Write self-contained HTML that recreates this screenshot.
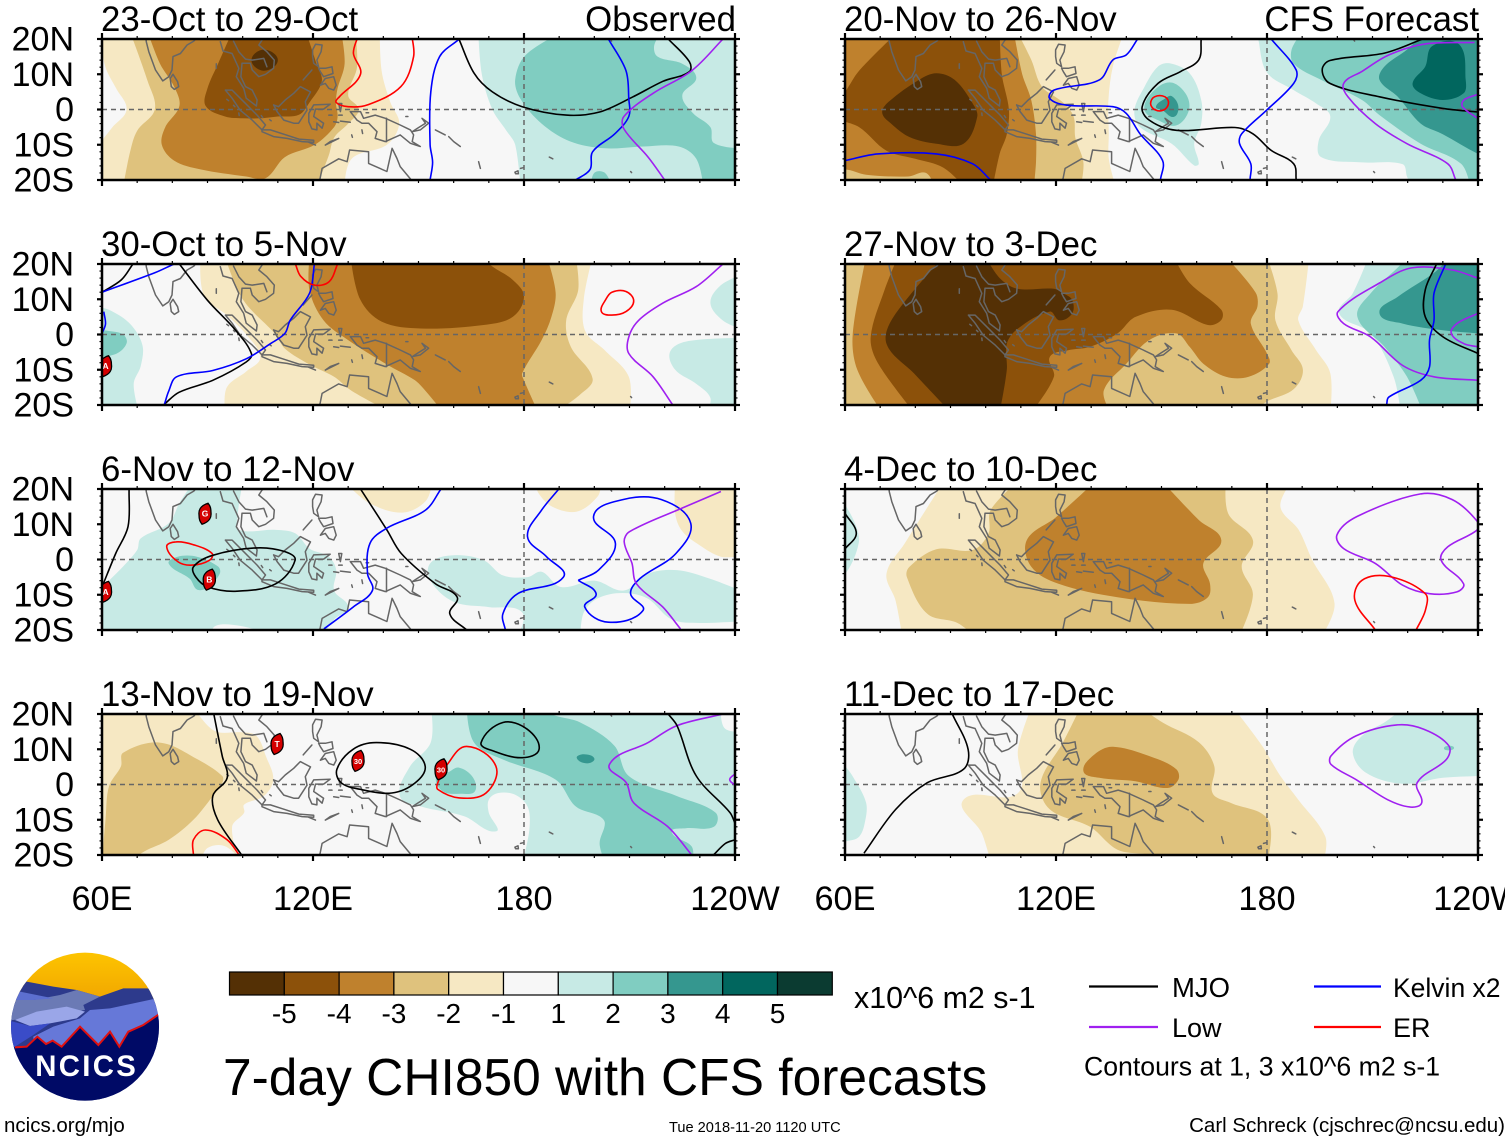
<!DOCTYPE html>
<html lang="en">
<head>
<meta charset="utf-8">
<title>7-day CHI850 with CFS forecasts</title>
<style>
html,body{margin:0;padding:0;background:#fff}
svg{display:block}
text{font-family:"Liberation Sans",sans-serif;fill:#000}
</style>
</head>
<body>
<svg id="chart" xmlns="http://www.w3.org/2000/svg" width="1510" height="1142" viewBox="0 0 1510 1142">
  <rect width="1510" height="1142" fill="#fff"/>
  <g id="panels"></g>
  <g id="colorbar"></g>

  <text x="854" y="1008" font-size="30.4">x10^6 m2 s-1</text>
  <text x="223" y="1095" font-size="51.5">7-day CHI850 with CFS forecasts</text>

  <g>
    <line x1="1089" x2="1158" y1="986.500" y2="986.500" stroke="#000" stroke-width="2.200"/>
    <text x="1172" y="997" font-size="27.500">MJO</text>
    <line x1="1314" x2="1381" y1="986.500" y2="986.500" stroke="#0000ff" stroke-width="2.200"/>
    <text x="1393" y="997" font-size="26.500">Kelvin x2</text>
    <line x1="1089" x2="1158" y1="1027" y2="1027" stroke="#a020f0" stroke-width="2.200"/>
    <text x="1172" y="1037" font-size="27">Low</text>
    <line x1="1314" x2="1381" y1="1027" y2="1027" stroke="#ff0000" stroke-width="2.200"/>
    <text x="1393" y="1037" font-size="27">ER</text>
    <text x="1084" y="1075.500" font-size="26.650">Contours at 1, 3 x10^6 m2 s-1</text>
  </g>

  <g transform="translate(0,940) scale(0.33333)">
    <defs>
      <clipPath id="logoClip"><circle cx="255" cy="260" r="222"/></clipPath>
      <linearGradient id="sunGrad" x1="0" y1="0" x2="0" y2="1"><stop offset="0" stop-color="#ffc800"/><stop offset="1" stop-color="#f0a400"/></linearGradient>
    </defs>
    <g clip-path="url(#logoClip)">
      <rect x="0" y="20" width="500" height="170" fill="url(#sunGrad)"/>
      <polygon fill="#2d3a8c" points="30,135 80,125 160,140 230,150 300,170 370,145 440,145 500,150 500,520 0,520"/>
      <polygon fill="#6b7ab5" points="20,180 100,180 180,165 230,150 300,170 250,195 255,210 40,240 20,240"/>
      <polygon fill="#5c6fd0" points="60,155 110,165 160,175 100,180 40,180"/>
      <polygon fill="#6678d8" points="100,290 160,260 240,235 270,210 330,205 470,175 490,240 400,270 360,330 300,330 100,330"/>
      <polygon fill="#9aa6e8" points="45,240 110,215 200,200 255,215 230,235 150,250 90,258"/>
      <polygon fill="#3a4cc8" points="20,240 90,258 150,250 100,285 45,320 20,330"/>
      <polygon fill="#000a66" points="45,322 80,320 112,290 138,312 158,302 185,320 240,260 295,315 330,275 358,320 385,275 430,255 478,222 500,520 0,520 0,322"/>
      <polyline fill="none" stroke="#e01010" stroke-width="6" points="45,322 80,320 112,290 138,312 158,302 185,320 240,260 295,315 330,275 358,320 385,275 430,255 478,222"/>
      <text x="260" y="408" font-size="88" font-weight="bold" text-anchor="middle" letter-spacing="7" style="fill:#fff">NCICS</text>
    </g>
  </g>

  <text x="4" y="1132" font-size="20.500">ncics.org/mjo</text>
  <text x="669" y="1132" font-size="14.600">Tue 2018-11-20 1120 UTC</text>
  <text x="1505" y="1132" font-size="20.500" text-anchor="end">Carl Schreck (cjschrec@ncsu.edu)</text>
  <rect id="edgeMask" x="1505" y="0" width="5" height="1142" fill="#fff"/>
</svg>

<script>
// ---- chart data (lon in degrees east, lat in degrees north) ----
const lonMajor = [60, 120, 180, 240];
const lonLabels = ['60E', '120E', '180', '120W'];
const latMajor = [20, 10, 0, -10, -20];
const latLabels = ['20N', '10N', '0', '10S', '20S'];
const barTicks = [-5, -4, -3, -2, -1, 1, 2, 3, 4, 5];
const panelTitles = ['23-Oct to 29-Oct', '30-Oct to 5-Nov', '6-Nov to 12-Nov', '13-Nov to 19-Nov', '20-Nov to 26-Nov', '27-Nov to 3-Dec', '4-Dec to 10-Dec', '11-Dec to 17-Dec'];

// filled contours: [level, [lon,lat,lon,lat,...]] painted in order
const p1Shade = [
 [-1,[59,22,139,22,139.500,11,142,2,144.500,-4,141,-10,131,-14,129,-22,59,-22,59,-10,63,-5,67,0,64,6,61,12]],
 [-2,[68,22,132,22,132.500,12,130,4,133,0,130,-4,126,-8,124.500,-13,121,-22,66,-22,68,-12,70,-6,75,0,73,8]],
 [-3,[73,22,128,22,129,13,127,6,126.500,2,127,-2,126,-5,120.500,-10,112,-13.500,106.500,-19.500,101,-19,88,-17,80.500,-14.500,77,-10,78,-5,82,1,80.500,6.500,76.500,13]],
 [-4,[97,22,118,22,121,13,122.500,8,119,2,116,-1.500,110,-2,105,-2.500,100,-2.500,95,-2,89.500,1,90,6,93,13]],
 [-5,[102.500,14,106,17,110,14,106,11]],
 [1,[167,22,242,22,242,-22,179,-22,177.500,-10,175,-6,171,0,168,10]],
 [2,[191,22,219,22,217,18,218,15,225,13,229,9,225,4,228,-1,233,-5,234,-9.500,242,-11,242,-22,231,-22,229,-14,224,-10.500,214,-10.500,203,-11,193,-9,185,-4,179,3,177.500,8.500,180.500,15.500]],
 [2,[199,-22,200,-18,203,-18,205,-22]]
];
const p1Lines = [
 ['ER',[133,21,131.500,16,133.500,10,127.500,3.600,126.600,2,130,0.800,135.500,1.300,145,6.500,148.600,15,148,21],0],
 ['Kelvin',[161.600,20,156,15,153.500,5,153.300,-10,154,-15,153.300,-20],0],
 ['MJO',[161.500,20,165.800,10.300,171,5,179.500,0.800,192,-1.600,201.500,-0.700,211,3.600,219.500,8,227,10.700,227,13.600,221,20],0],
 ['Kelvin',[204,20,209,11,209.800,3,209.800,-2,205.700,-7,199.500,-12,198.800,-17,194.700,-20],0],
 ['Low',[236.600,20,227.700,11,216.700,4.600,208.400,-2,208.400,-5.500,215.300,-13.500,220,-20],0]
];
const p1Storms = [];

const p2Shade = [
 [-1,[88,22,199.500,22,197,10,197.400,1,203,-4.500,209.800,-12,210,-22,95,-22,95.500,-15,101,-10.500,105,-6.500,101,0,95.500,5.500,89,11]],
 [-2,[95,22,194.700,22,195.400,12.600,192,4,193.300,-3.500,199.500,-12.500,196,-17,189,-22,142,-22,131,-16,126,-12,119,-8.500,112,-4,109.400,0,100,10]],
 [-3,[119,22,186.500,22,189,12,187.800,5,185,-1.600,179.500,-11,180,-13,184,-22,157,-22,152,-16,149,-13,141,-8.500,130,-1.600,123,4,119,12.500]],
 [-4,[130.700,22,133.400,10,139.600,3.600,150.600,1.700,168.500,2.700,176.800,5,180,10.800,176.800,15.500,171,19.300,168,22]],
 [1,[58,8,62,7,68,3,71.500,-3,71,-9,69,-14,70.500,-22,58,-22]],
 [2,[58,1.500,62,1,66,0,67,-2.500,64,-5.500,58,-6.500]],
 [1,[242,17,236,14,233,9,236.500,4,242,1.500]],
 [1,[242,-1,226,-2,221.500,-5,223,-10,229,-14,233,-18,232,-22,242,-22]]
];
const p2Lines = [
 ['MJO',[68.800,20,65.500,15.500,60,12],0],
 ['Kelvin',[80.500,20,75,17.500,60,12],0],
 ['MJO',[82,20,90,9.700,98,1.200,102.500,-5.500,101,-7.800,91.500,-13,81.900,-16.400,77.700,-19.800],0],
 ['Kelvin',[120.400,20,119,11.700,113.500,4,112,0.300,107.900,-2.600,101,-6.900,91.500,-10.200,81.200,-12,79,-16,77.700,-20],0],
 ['Kelvin',[60.500,6.500,61,3,60,0.300],0],
 ['ER',[115,20,116.500,16.500,120.400,14,124.600,15,127,20],0],
 ['ER',[205,12,209,12.200,211.200,9.500,209,6.500,205,5.500,202,6.500,203.300,10],1],
 ['Low',[236.600,20,229,13.600,219.500,8.900,212.600,4,209.800,-0.700,209.800,-5.400,216.700,-12,222.300,-20],0]
];
const p2Storms = [[61,-9,'A']];

const p3Shade = [
 [1,[58,-10,62,-6,66,-2,70,2.700,71,6,79,10.300,82,16,86,22,100,22,98.500,12,99,8.400,109.400,8.400,115,7.400,119,3.100,124.500,0.800,126.600,-3,126,-8.800,130,-13.500,126,-17,122.500,-22,58,-22]],
 [0,[91,-22,92,-19,97,-18.500,104,-20,108,-22]],
 [2,[79,-1.200,81.500,0.800,87,0.800,93,-2,93.500,-4,90,-8,87,-8.500,85,-5.500]],
 [1,[153.400,-1,160,1.200,168.500,-0.200,174,-4.500,181,-5,185,-3.500,190.500,-7.800,200,-6,208.400,-8.800,215.300,-4,223.500,-3,233,-5.500,242,-9,242,-17.500,230,-18,222,-17,215,-11,208,-9.500,201,-11,197,-15,196,-22,178,-22,179.500,-15,170,-13.500,160,-12,153.400,-6]],
 [-1,[130,22,131,20,137,15.500,145.500,13.300,152,16.500,154,22]],
 [-1,[183.500,22,184,19,188,15,195,13.600,201,18,202,22]],
 [-1,[223,22,223,13,225,8,230,4,236,0.800,242,1,242,22]]
];
const p3Lines = [
 ['MJO',[67.700,20,67.400,9.300,63.900,1.700,60,-7.800],0],
 ['ER',[78.400,3.600,81,5,86,4.200,91.300,1.700,90.600,-0.200,85.800,-1.600,81.700,-0.700],1],
 ['MJO',[86,-2.100,91.500,1.200,103.900,3.300,112.100,2.200,114.900,-0.200,109.400,-6.900,98.400,-9,90.100,-7.800,86.700,-5],1],
 ['MJO',[133.500,20,141,8.400,145.100,1.700,154.800,-6.900,161,-10.700,158.900,-15.400,163.700,-20],0],
 ['Kelvin',[156.400,20,152,14,141,8.900,136.200,4.600,135.500,-4,136.900,-8.800,131.400,-13.500,123.100,-19.700],0],
 ['Kelvin',[189.900,20,185,14,181,6.500,186.400,0.800,191.200,-5,178.200,-9.700,174,-15.400,174.700,-20],0],
 ['Kelvin',[195.400,-5.900,200.500,-9.700,197.300,-13.500,204,-17.800,213.800,-14.500,210.300,-9.700,213,-5.400,223.200,1.700,227.400,10.300,219.100,17,208.100,17,199.800,12.300,206,4.600,201.200,-3,195.400,-5.900],0],
 ['Low',[236,19.300,225,14.600,210,7.900,208.500,5,210.700,-1.100,212,-6.900,219.500,-13.500,224.500,-19.700],0]
];
const p3Storms = [[89.300,13,'G'],[90.500,-5.700,'B'],[61,-9.200,'A']];

const p4Shade = [
 [-1,[58,22,86,22,92,15.200,99.700,14.800,103.900,13.800,106.600,8,108.700,1.400,106,-3.300,100.400,-5.700,100.400,-8,97,-12,99,-22,58,-22]],
 [-2,[60,-22,61,-10,62,-0.500,65.400,5.200,66,9,76.400,11.900,87.400,7,94.200,2.400,94.200,0.500,91.500,-3.300,86,-10,79,-15.700,72,-19,68,-22]],
 [0,[88,-22,90,-18,95,-17.500,100,-22]],
 [1,[153.500,22,153.500,12,147.500,5,144.700,-3.300,150.600,-6.200,163,-9,172,-13.300,170,-8,170,-4.300,172.700,-2.400,177.500,-2.900,181,-6.200,181.600,-12,180.200,-20,180,-22,242,-22,242,15,237,16,236,22]],
 [2,[163.700,22,165.800,11.900,174,7.100,189,1.400,194.700,-6.200,201.500,-9,203,-11,201.500,-16.700,203,-22,228,-22,227.700,-17.600,222,-13.500,226,-12.400,234,-12,234.500,-8,223.500,-3.300,209.800,2.400,205.700,11,196,17.600,189,19.500,183,22]],
 [2,[155,2,158.500,3.500,161.500,4.800,165.500,2,166,-2,162,-2.600,157,-2]],
 [3,[195,7.500,197,8.600,200,7.400,198,6]]
];
const p4Lines = [
 ['MJO',[91.800,20,94.200,8,95.600,1.900,91.500,-3.300,92.900,-10,99.700,-20],0],
 ['ER',[86,-20,86,-15.700,89.400,-12.900,95.600,-15.700,99,-20],0],
 ['MJO',[126.800,4.300,131.400,10,138,11.900,147.700,10,151.900,5.200,149.100,0.500,142.400,-2.400,133.500,-1.400,128,0.500],1],
 ['MJO',[167.800,11.900,174,17.600,180.900,15.700,184.300,10,179.500,7.600,171.300,9.500],1],
 ['ER',[158.200,5.700,163.700,10.800,172,5.200,169.200,-2.400,161.600,-3.800,155.500,-1.400,155.500,0.500],1],
 ['Low',[236.600,20,223.500,16.700,215.300,11.900,204.300,5.700,209.100,0.500,211.200,-5.200,220.800,-11.900,227.700,-20],0],
 ['Low',[240,3,238.500,1.400,240,-0.200],0],
 ['MJO',[221,20,223.500,16.700,229,2.400,238.600,-8,240,-11],0],
 ['MJO',[233.900,-20,237.300,-16.700,240,-15.700],0]
];
const p4Storms = [[109.800,11.500,'T'],[132.800,6.700,'30'],[156.400,4.300,'30']];

const p5Shade = [
 [-1,[58,22,139.400,22,136.200,12.400,134.900,2.600,135,-7,135,-14,137,-22,58,-22]],
 [-2,[58,22,109,22,113,14,116,6.500,122,2,125,-2,125.500,-8,127.800,-15,127,-22,58,-22]],
 [-3,[58,22,108,22,110.400,10,113,2.500,114.300,-7,114.300,-15,113.700,-22,58,-22]],
 [-2,[58,-18,60,-17,66,-18.500,78,-19,83,-18,85.500,-22,58,-22]],
 [-4,[75,22,64,11,60,5,58,3,58,-3,64,-5,71.800,-11.700,80,-14,88,-16.500,94,-22,102,-22,104,-12.500,106,-7,106.600,0,104.600,10,104,22]],
 [-5,[86,10.300,91.200,8.400,96.300,1.700,97.600,-2.100,93.700,-9.700,86,-9.700,78.300,-7.800,73.100,-4,70.600,-1.100,71.900,1.700,81,8.400]],
 [1,[152.300,13.100,158,10.300,161.300,2.700,161.300,-4,159.300,-9.700,160.600,-15.400,159.300,-15.900,152.900,-9.700,143.900,-5,142.300,-0.200,145.200,6.500,149,12.200]],
 [2,[152.300,7.700,156.800,4.600,157.800,-0.200,154.200,-4.500,149,-3,145.200,-0.200,147.100,4.600]],
 [3,[152.900,3.800,154.800,0.800,153.500,-2.100,150.300,-0.200,148.400,0.800,151,3.100]],
 [1,[177.300,22,177.500,20,180,10.500,187.600,5.500,194,1.700,198,-2,194.700,-8.800,195.400,-13.500,207,-15,218.500,-15.500,219.800,-19,221,-22,242,-22,242,22]],
 [2,[190,22,187,17,187.600,13,195.400,8.400,207,2.700,212,-1.600,223.700,-9.700,235.200,-15.400,237.800,-22,242,-22,242,22]],
 [3,[225,22,219.800,17,213.400,12.200,212,8.400,217.200,3.600,223.700,-4,230,-7,240,-12.600,242,-13,242,22]],
 [4,[227,18,234.600,18.500,236.500,8.400,235.900,4.600,230,2.700,223.700,4.600,221.400,7.400,225,12.200]]
];
const p5Lines = [
 ['Kelvin',[60,-14.500,69.300,-12.600,86,-12.600,96.300,-15.400,101.400,-20],0],
 ['Kelvin',[143.200,20,140,15.500,136.200,14.100,132.300,8.400,119.400,5.500,118.200,3.100,123.300,1.200,136.200,0.800,140,-1.100,143.900,-6.900,150.300,-14.500,149.700,-20],0],
 ['MJO',[161.300,20,160.600,14.100,155.500,10.800,149,7.400,144.500,0.800,146.500,-3,154.200,-5.900,170.900,-5.100,176,-6.900,181.200,-11.600,187.600,-15.400,188.300,-20],0],
 ['ER',[148,3.600,151,3.600,152,1.700,150.500,-0.200,148,0,146.900,1.700],1],
 ['Kelvin',[181.200,20,188.300,11.200,187.600,7.400,179.900,-0.200,172.800,-6.900,172.200,-9.700,175.400,-15.400,175.200,-19.700],0],
 ['MJO',[224.300,20,213.400,16,197.900,13.900,195.700,11.200,197.900,7.400,212,3.600,230,0.300,240,-0.700],0],
 ['Low',[239,19,225,18.600,214.700,15.500,207,10.800,201.800,7.400,203,3.600,210.800,-4,219.800,-9.700,231.400,-15.400,233.700,-20],0],
 ['Low',[240,4.300,236,2.700,235.600,0.800,240,-2.600],0]
];
const p5Storms = [];

const p6Shade = [
 [-1,[58,22,192,22,190.200,8,188.900,4,194,-4.500,198,-11,198,-22,58,-22]],
 [-2,[58,22,180,22,183,11.600,182.400,4,187,-4.500,190.200,-10,187.600,-15.500,180,-19,176,-22,58,-22]],
 [-3,[66,22,168.300,22,176.700,12,177.300,8,175.400,3.100,180,-5.400,180.600,-8.300,174.800,-12,168.300,-12,161.900,-8.300,158,-3.500,154.200,0.300,146.500,-1.600,140,-8.300,133.600,-15.900,135.500,-22,70.500,-22,63.500,-10,62.200,0]],
 [-4,[75,22,153.500,22,158,14.600,167,7,167,4.100,163.200,2.700,152.900,7,142.600,5,137.500,0.300,129.700,-3.500,123.300,-4.500,118.200,-6.400,119.400,-12,113,-22,79.600,-22,69.300,-8,67.300,-0.700,71.200,12.500]],
 [-5,[88,22,100,22,104,16,109,13,119.400,13,122,11.700,124.600,9.800,124.600,6,121,4,118.200,6.500,109.200,1.700,106,-2.600,106,-10,104,-22,90,-22,79.600,-11,71.800,-2.600,73.800,5]],
 [1,[208.900,22,204.400,11.700,200.500,6,209.500,0.300,216,-12,218,-22,242,-22,242,22]],
 [2,[220,22,217.200,19,209.500,11.700,205.700,5,213.400,-3.500,219.800,-12,224.300,-22,242,-22,242,22]],
 [3,[232,22,227.500,17.500,217.200,10.700,212,6,218.600,3.100,230,1.200,240,0.300,242,0,242,22]]
];
const p6Lines = [
 ['Low',[240,16,232.700,18.300,221.100,18.900,212,14.600,200.200,6.500,201.800,3.100,209.500,-0.700,218.600,-8.800,227.500,-12,240,-13],0],
 ['Low',[240,6,234,3.100,232.400,0.300,236,-2.600,240,-3.500],0],
 ['MJO',[228.200,20,225,12.700,225,5,230.100,-0.700,240,-5.400],0],
 ['Kelvin',[230.800,20,227.500,11.700,227.500,4,226.200,-1.600,226.200,-9.200,223.700,-13,214.600,-17.800,214,-20],0]
];
const p6Storms = [];

const p7Shade = [
 [-1,[88,22,187,22,183.800,15,189,8.400,192.800,0,199.200,-12.400,195.400,-22,76.300,-22,74.400,-11.700,71.800,-4,77,4.600]],
 [-2,[109,22,101.400,14,100.800,7.400,96.300,2.700,86,2.900,78.300,-2.100,77.600,-5,83.400,-15.400,92,-18,97,-22,172,-22,176,-10,172.800,-2,176,5.500,169,13,168.300,22]],
 [-3,[131,22,120,12,111.700,5.500,113,-2.100,120.700,-6.900,137.500,-10.700,158,-12.600,163.200,-10.700,163.800,-6.900,161.900,-1.100,167,5.500,160.600,11.200,150.300,22]],
 [1,[58,17,60,15.500,63.200,9.300,63.900,4.600,60.500,-3.500,58,-4]]
];
const p7Lines = [
 ['MJO',[60,13.100,63.200,7.400,60,3],0],
 ['Low',[223.700,18.600,232.700,17,239.800,10.800,239.800,8.400,231.400,3.600,229.500,-0.200,235.900,-6.900,234,-9.200,226.200,-9.700,218.600,-7.300,210.800,-1.100,201.800,3.100,199.900,7,205.600,12.200],1],
 ['ER',[210.800,-20,205,-11.600,207,-5.900,214.700,-4.800,225,-9.700,225,-14.500,222.400,-20],0]
];
const p7Storms = [];

const p8Shade = [
 [-1,[113,22,170.300,22,178.600,11,183.800,2.400,188.900,-4.300,196.600,-14.800,196,-22,101.400,-22,98.900,-13.800,93.700,-4.300,109.200,-2.400,109.200,10]],
 [-2,[127,22,122,12,115.600,0.500,118.200,-7,129.700,-12,137.500,-18.500,146.500,-20,150,-22,180,-22,180.300,-10,169.600,-5.200,164.500,-2.400,165,5.200,160.600,12,150.300,17.600,144,22]],
 [-3,[127.800,3.800,131,8.600,136.200,10.700,147.800,7.600,154.200,4.300,154.800,1.400,151.700,-1,142.600,0.900,132.300,1.900]],
 [1,[58,6,60,5.200,63,1,66,-5.200,65.800,-10,64,-14.800,60,-16.200,58,-16.500]],
 [1,[219,22,214,18,207,13.800,204.400,9,208.200,3.300,218.500,0.200,230,1.900,240,2.400,242,2.400,242,22]],
 [2,[230.300,10.300,232,11,233.200,10.400,232,9.700]]
];
const p8Lines = [
 ['MJO',[90.500,20,95,10,93.700,4.300,83.400,0.500,74.400,-7.100,65.400,-19.500],0],
 ['Low',[216.900,16.900,224.600,15.700,231.700,11,231,7.100,222.700,0.500,224,-5.200,220.800,-6.400,214.300,-4.300,205.300,1.400,198.200,5.700,198.200,8.100,205.300,13.800],1]
];
const p8Storms = [];

// coastlines, shared by all panels
const coastIndia = [72.400,21,72.600,19.200,73.300,16.400,75.200,11.200,77.300,8.100,79,9.300,79.900,11.200,80.200,15,82.300,15.900,84.200,18.300,86.100,19.400,87,20.500];
const coastSriLanka = [79.400,8.800,80.200,10,81.500,7.900,81.800,6.500,80.600,5.700,79.700,6.500,79.400,8.800];
const coastIndochina = [93.650,19.240,94.400,16.600,97,15.900,98.900,11.700,98.200,9.300,100.300,6,101,3.200,103.900,1,104.100,2.700,102.700,5.500,100.800,6.500,99.500,9.300,99.800,13.100,102.200,13.100,102.700,11.200,104.600,9.300,106.500,10,108.800,11.700,109,14,106.900,16.400,104.600,18.300,105.500,19.700,107,21];
const coastMainlandInner = [97.400,19.400,98.900,16.400,100.800,14.300,102.700,14,106,14.500,106.900,12.100];
const coastSumatra = [95.100,5.500,97,5.500,100.300,2.200,104.100,-1.600,106.500,-4.400,105.500,-5.800,102.700,-3,99.300,-0.200,97,3.200,95.100,5.500];
const coastJava = [105.500,-5.800,107.900,-5.800,111.700,-7,116,-8.400,120.200,-8.700,120.200,-9.300,116.900,-9.100,112.600,-8.200,108.800,-7.700,105.500,-6.300,105.500,-5.800];
const coastBorneo = [108.800,1.300,110.200,0.800,112.100,2.700,114.500,4.600,116.400,6.500,119.300,5,117.800,2.200,118.300,-0.200,115.900,-3.900,114.500,-3.900,111.700,-3,109.800,-0.600,108.800,1.300];
const coastSulawesi = [118.800,-1.100,120.200,1.300,124.900,1.500,123,0.100,120.700,0.100,120.200,-2,123,-3.900,122.600,-5.300,121.100,-3.900,121.100,-5.800,119.700,-5.500,118.800,-3.500,118.800,-1.100];
const coastLuzon = [119.900,16.900,120.700,18.500,122.600,18.300,122.300,16.400,121.100,14,121.600,12.100,120.200,13.100,119.900,15,119.900,16.900];
const coastVisayas = [121.600,11.700,123.500,11.700,125.400,12.100,125.700,10.200,123,9.300,122.100,10.700,121.600,11.700];
const coastMindanao = [122.100,6.900,123.500,8.800,125.900,9.300,126.600,6.900,125.900,5.500,124.500,6,123.500,7.400,122.100,6.900];
const coastPalawan = [117.200,8.400,119.700,11.200];
const coastHalmahera = [127.300,1.700,128.200,1.700,127.800,-0.600,127.300,1.700];
const coastSeram = [127.800,-3.300,130.600,-3.600];
const coastBuru = [125.900,-3.500,127.300,-3.700];
const coastMorotai = [127.300,-1.600,128.300,-1.600];
const coastBanggai = [124.500,-1.600,125.400,-1.600];
const coastAru = [133.900,-5.800,134.100,-6.800];
const coastTanimbar = [131,-7.200,131.200,-7.900];
const coastBiak = [135.100,-0.900,135.800,-0.900];
const coastManus = [146.400,-2,147,-2];
const coastNewGuinea = [130.600,-0.600,133.500,-0.600,134.400,-2.500,137.700,-1.600,140.600,-2.500,144.800,-4.400,147.700,-5.800,148.600,-7.200,148.200,-9.100,150.500,-10.500,147.700,-9.600,144.800,-7.200,140.600,-9.100,137.700,-8.200,138.200,-6.300,135.800,-3.900,133.900,-3.900,132.500,-3,130.600,-0.600];
const coastPngBorder = [140.900,-2.500,140.900,-9.100];
const coastAustralia = [120,-21.500,122,-19.700,122.600,-16.700,127.300,-14,129.700,-14.800,130.400,-11.500,135.800,-12,135.800,-15.300,141,-17.600,142.500,-11,143.900,-13.900,144.800,-16.200,147.700,-19.700,149,-22];
const coastNewBritain = [148.200,-6.300,150.500,-5.800,152.900,-3.900,151,-2.500,152,-3.900,149.600,-5.400,148.200,-6.300];
const coastBougainville = [154.800,-5.800,157.600,-7.200];
const coastSolomons = [158.600,-7.700,160,-9.100,161.900,-10.500];
const coastTimor = [123.500,-10.100,127.300,-8.200,124.900,-9.100,123.500,-10.100];
const coastSumba = [118.800,-9.300,120.700,-10.100];
const coastAndaman = [92.500,13,92.500,11.700];
const coastNias = [95.500,2.900,96,2.500];
const coastSiberut = [97.400,1.200,97.800,0.800];
const coastMentawai = [98.900,-1,99,-1.700];
const coastBangka = [105.300,-1.700,105.700,-2.300];
const coastBelitung = [107.700,-2.900,108.100,-3.200];
const coastVanuatu = [167.100,-14.800,167.600,-16.700];
const coastFiji = [177.400,-17.800,178.300,-17.400,178.400,-18.200,177.600,-18.200,177.400,-17.800];
const coastFiji2 = [179,-16.700,179.800,-16.500];
const coastSamoa = [187.200,-13.500,188.200,-14];
const coastTahiti = [210.300,-17.600,210.600,-17.900];
const coastHawaii = [204.500,20,204.900,19.400];
const allCoasts = [coastIndia,coastSriLanka,coastIndochina,coastMainlandInner,coastSumatra,coastJava,coastBorneo,coastSulawesi,coastLuzon,coastVisayas,coastMindanao,coastPalawan,coastHalmahera,coastSeram,coastBuru,coastMorotai,coastBanggai,coastAru,coastTanimbar,coastBiak,coastManus,coastNewGuinea,coastPngBorder,coastAustralia,coastNewBritain,coastBougainville,coastSolomons,coastTimor,coastSumba,coastAndaman,coastNias,coastSiberut,coastMentawai,coastBangka,coastBelitung,coastVanuatu,coastFiji,coastFiji2,coastSamoa,coastTahiti,coastHawaii];

const panelShades = [p1Shade,p2Shade,p3Shade,p4Shade,p5Shade,p6Shade,p7Shade,p8Shade];
const panelLines = [p1Lines,p2Lines,p3Lines,p4Lines,p5Lines,p6Lines,p7Lines,p8Lines];
const panelStorms = [p1Storms,p2Storms,p3Storms,p4Storms,p5Storms,p6Storms,p7Storms,p8Storms];

// ---- styling and layout ----
const levelColor = {'-5':'#543005','-4':'#8c510a','-3':'#bf812d','-2':'#dfc27d','-1':'#f6e8c3','0':'#f7f7f7','1':'#c7eae5','2':'#80cdc1','3':'#35978f','4':'#01665e','5':'#0b3b31'};
const waveColor = {MJO:'#000000',Kelvin:'#0000ff',Low:'#a020f0',ER:'#ff0000'};
const colX = [102, 845];
const rowY = [39, 264, 489, 714];
const PW = 633, PH = 141;
const NS = 'http://www.w3.org/2000/svg';

function mk(parent, tag, attrs, txt) {
  const el = document.createElementNS(NS, tag);
  for (const k in attrs) el.setAttribute(k, attrs[k]);
  if (txt !== undefined) el.textContent = txt;
  parent.appendChild(el);
  return el;
}

// p: pixel points; sharp[i] true = off-map knot, kept as a hard corner so no bulge enters the plot
function splinePath(p, closed, sharp) {
  const n = p.length;
  const wrap = i => closed ? (i + n) % n : Math.max(0, Math.min(n - 1, i));
  const at = i => p[wrap(i)];
  let d = 'M' + p[0][0].toFixed(1) + ',' + p[0][1].toFixed(1);
  const dist = (a, b) => Math.hypot(a[0] - b[0], a[1] - b[1]);
  const tang = i => {
    if (sharp[wrap(i)]) return [0, 0];
    const a = at(i - 1), b = at(i + 1);
    const l = dist(a, b) || 1;
    return [(b[0] - a[0]) / l, (b[1] - a[1]) / l];
  };
  const segs = closed ? n : n - 1;
  for (let i = 0; i < segs; i++) {
    const a = at(i), b = at(i + 1);
    const l = dist(a, b) / 3;
    const ta = tang(i), tb = tang(i + 1);
    d += 'C' + (a[0] + ta[0] * l).toFixed(1) + ',' + (a[1] + ta[1] * l).toFixed(1) + ' ' +
         (b[0] - tb[0] * l).toFixed(1) + ',' + (b[1] - tb[1] * l).toFixed(1) + ' ' +
         b[0].toFixed(1) + ',' + b[1].toFixed(1);
  }
  return d + (closed ? 'Z' : '');
}

function drawPanel(index) {
  const col = index < 4 ? 0 : 1;
  const row = index % 4;
  const px = colX[col], py = rowY[row];
  const x = lon => px + (lon - 60) * PW / 180;
  const y = lat => py + (20 - lat) * PH / 40;
  const toPts = f => { const r = []; for (let i = 0; i < f.length; i += 2) r.push([x(f[i]), y(f[i + 1])]); return r; };
  const offMap = f => { const r = []; for (let i = 0; i < f.length; i += 2) r.push(f[i] < 59.500 || f[i] > 240.500 || Math.abs(f[i + 1]) > 20.500); return r; };

  const root = document.getElementById('panels');
  const g = mk(root, 'g', {});
  
  

  const clipId = 'clip' + index;
  const defs = mk(g, 'defs', {});
  const cp = mk(defs, 'clipPath', {id: clipId});
  mk(cp, 'rect', {x: px, y: py, width: PW, height: PH});

  const plot = mk(g, 'g', {'clip-path': 'url(#' + clipId + ')'});
  
  
  const bg = mk(plot, 'rect', {x: px, y: py, width: PW, height: PH, fill: levelColor['0']});
  
  

  panelShades[index].forEach(s => {
    const el = mk(plot, 'path', {d: splinePath(toPts(s[1]), true, offMap(s[1])), fill: levelColor[String(s[0])]});
    
    
  });

  allCoasts.forEach(c => {
    const el = mk(plot, 'polyline', {points: toPts(c).map(q => q[0].toFixed(1) + ',' + q[1].toFixed(1)).join(' '), fill: 'none', stroke: '#666', 'stroke-width': 1.500, 'stroke-linejoin': 'round', 'stroke-linecap': 'round'});
    
    
  });

  const eq = mk(plot, 'line', {x1: px, x2: px + PW, y1: y(0), y2: y(0), stroke: '#666', 'stroke-width': 1.500, 'stroke-dasharray': '5 4'});
  
  
  const dl = mk(plot, 'line', {x1: x(180), x2: x(180), y1: py, y2: py + PH, stroke: '#666', 'stroke-width': 1.500, 'stroke-dasharray': '5 4'});
  
  

  panelLines[index].forEach(l => {
    const el = mk(plot, 'path', {d: splinePath(toPts(l[1]), !!l[2], offMap(l[1])), fill: 'none', stroke: waveColor[l[0]], 'stroke-width': 1.600, 'stroke-linejoin': 'round'});
    
    
  });

  panelStorms[index].forEach(s => {
    const t = mk(plot, 'g', {transform: 'translate(' + x(s[0]).toFixed(1) + ',' + y(s[1]).toFixed(1) + ')'});
    
    
    mk(t, 'path', {d: 'M3,-10.500 C-5,-8 -6.500,-3 -6,1 C-6,6 -5,8 -3,10.500 C5,8 6.500,3 6,-1 C6,-6 5,-8 3,-10.500Z', fill: '#d40000', stroke: '#000', 'stroke-width': 1.300});
    mk(t, 'text', {x: 0, y: 3, 'font-size': s[2].length > 1 ? 7.500 : 8.500, 'font-weight': 'bold', 'text-anchor': 'middle', style: 'fill:#fff'}, s[2]);
  });

  const frame = mk(g, 'rect', {x: px, y: py, width: PW, height: PH, fill: 'none', stroke: '#000', 'stroke-width': 2.500});
  
  

  const ticks = mk(g, 'g', {stroke: '#000', 'stroke-width': 1.300});
  
  
  for (let lon = 60; lon <= 240; lon += 10) {
    const len = lonMajor.includes(lon) ? 6 : 3;
    const w = lonMajor.includes(lon) ? 2.200 : 1.200;
    mk(ticks, 'line', {x1: x(lon), x2: x(lon), y1: py, y2: py - len, 'stroke-width': w});
    mk(ticks, 'line', {x1: x(lon), x2: x(lon), y1: py + PH, y2: py + PH + len, 'stroke-width': w});
  }
  for (let lat = -20; lat <= 20; lat += 2) {
    const major = latMajor.includes(lat);
    const len = major ? 5 : 2.500;
    const w = major ? 2.200 : 1.200;
    mk(ticks, 'line', {x1: px, x2: px - len, y1: y(lat), y2: y(lat), 'stroke-width': w});
    mk(ticks, 'line', {x1: px + PW, x2: px + PW + len, y1: y(lat), y2: y(lat), 'stroke-width': w});
  }

  const title = mk(g, 'text', {x: px - 1, y: py - 8, 'font-size': 34.800}, panelTitles[index]);
  
  

  if (col === 0) {
    latMajor.forEach((lat, i) => {
      const t = mk(g, 'text', {x: 74, y: y(lat) + 11.500, 'font-size': 34, 'text-anchor': 'end'}, latLabels[i]);
      
      
    });
  }
  if (row === 3) {
    lonMajor.forEach((lon, i) => {
      const t = mk(g, 'text', {x: x(lon), y: 910, 'font-size': 34.300, 'text-anchor': 'middle'}, lonLabels[i]);
      
      
    });
  }
  if (index === 0 || index === 4) {
    const t = mk(g, 'text', {x: px + PW + 1, y: py - 8, 'font-size': 34.800, 'text-anchor': 'end'}, index === 0 ? 'Observed' : 'CFS Forecast');
    
    
  }
}

for (let i = 0; i < 8; i++) drawPanel(i);

// colour bar
(function () {
  const bar = document.getElementById('colorbar');
  const levels = [-5, -4, -3, -2, -1, 0, 1, 2, 3, 4, 5];
  const bx = 229.500, bw = 54.800, by = 972, bh = 23;
  levels.forEach((lv, i) => {
    const r = mk(bar, 'rect', {x: bx + i * bw, y: by, width: bw, height: bh, fill: levelColor[String(lv)], stroke: '#000', 'stroke-width': 1.200});
    
    
  });
  barTicks.forEach((v, i) => {
    const t = mk(bar, 'text', {x: bx + (i + 1) * bw, y: 1023, 'font-size': 28, 'text-anchor': 'middle'}, String(v));
    
    
  });
})();
</script>
</body>
</html>
